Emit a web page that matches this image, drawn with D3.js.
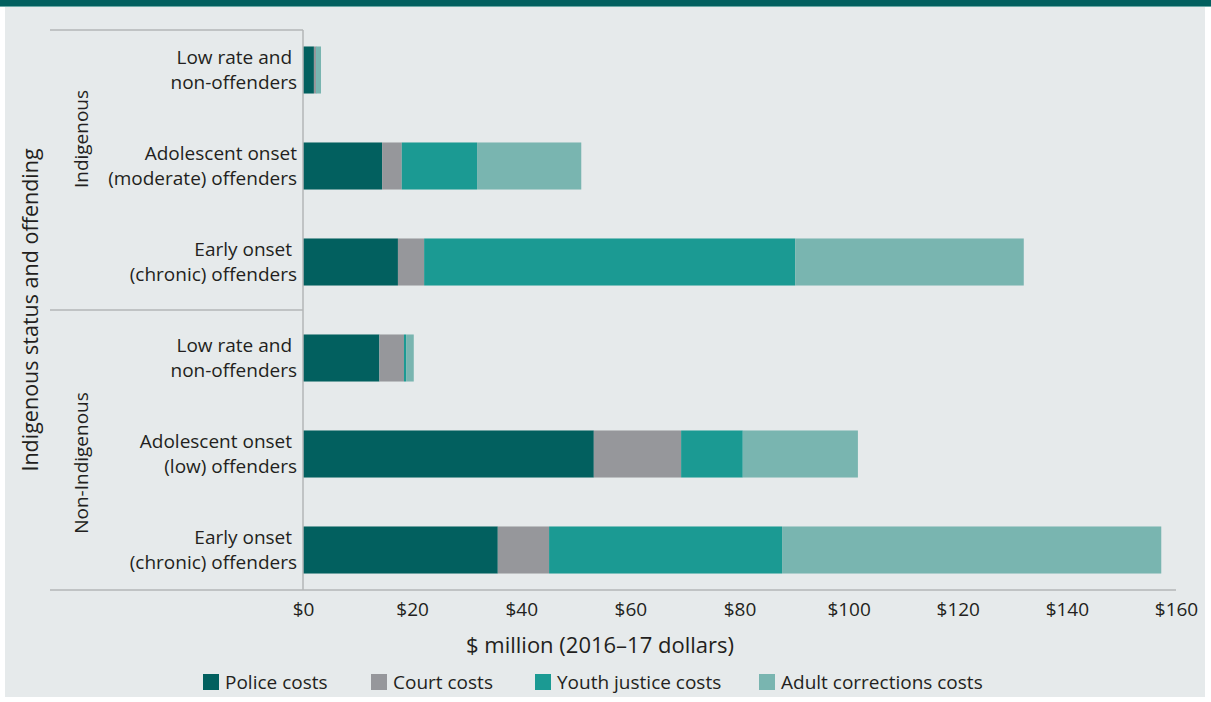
<!DOCTYPE html>
<html>
<head>
<meta charset="utf-8">
<script src="https://cdn.jsdelivr.net/npm/d3@7"></script>
<style>
  body { margin: 0; background: #fff; }
  svg text { font-family: "Open Sans", sans-serif; fill: #231f20; }
</style>
</head>
<body>
<svg id="chart" width="1211" height="702"></svg>
<script>
// Categories (top to bottom) and their group
const groups = ["Indigenous", "Non-Indigenous"];
const categories = [
  ["Low rate and ", "non-offenders"],
  ["Adolescent onset", "(moderate) offenders"],
  ["Early onset ", "(chronic) offenders"],
  ["Low rate and ", "non-offenders"],
  ["Adolescent onset ", "(low) offenders"],
  ["Early onset ", "(chronic) offenders"]
];

// Series values, $ million (2016-17 dollars)
const seriesNames = ["Police costs", "Court costs", "Youth justice costs", "Adult corrections costs"];
const police = [2.0, 14.5, 17.4, 14.0, 53.3, 35.7];
const court = [0.4, 3.6, 4.8, 4.5, 16.0, 9.4];
const youth = [0.1, 13.8, 68.0, 0.4, 11.3, 42.7];
const adult = [0.8, 19.1, 41.9, 1.4, 21.1, 69.5];
const tickValues = [0, 20, 40, 60, 80, 100, 120, 140, 160];
const colors = ["#02605f", "#96979b", "#1b9a93", "#79b5b0"];

const svg = d3.select("#chart");

// Background panel and top banner
svg.append("rect").attr("x", 5).attr("y", 0).attr("width", 1200).attr("height", 697).attr("fill", "#e6eaeb");
svg.append("rect").attr("x", 0).attr("y", 0).attr("width", 1211).attr("height", 6).attr("fill", "#02605f");
svg.append("rect").attr("x", 0).attr("y", 6).attr("width", 1211).attr("height", 1).attr("fill", "#6aa9a6");

const x = d3.scaleLinear().domain([0, 160]).range([303, 1176]);
const y = d3.scaleBand().domain(d3.range(categories.length))
  .range([22, 598]).paddingInner(0.51).paddingOuter(0.255);

// Stack the series
const rows = categories.map((c, i) => ({ i, police: police[i], court: court[i], youth: youth[i], adult: adult[i] }));
const keys = ["police", "court", "youth", "adult"];
const stacked = d3.stack().keys(keys)(rows);

svg.append("g").selectAll("g")
  .data(stacked)
  .join("g")
  .attr("fill", (d, k) => colors[k])
  .selectAll("rect")
  .data(d => d)
  .join("rect")
  .attr("x", d => x(d[0]))
  .attr("y", d => y(d.data.i))
  .attr("width", d => x(d[1]) - x(d[0]))
  .attr("height", y.bandwidth());

// Frame lines
const lineColor = "#b3b6b7";
svg.append("line").attr("x1", 50).attr("x2", 303).attr("y1", 30).attr("y2", 30)
  .attr("stroke", lineColor).attr("stroke-width", 1.5);
svg.append("line").attr("x1", 50).attr("x2", 303).attr("y1", 310).attr("y2", 310)
  .attr("stroke", lineColor).attr("stroke-width", 1.5);
svg.append("line").attr("x1", 303).attr("x2", 303).attr("y1", 30).attr("y2", 590)
  .attr("stroke", lineColor).attr("stroke-width", 1.5);

// X axis
const xAxis = svg.append("g")
  .attr("transform", "translate(0,590)")
  .call(d3.axisBottom(x).tickValues(tickValues).tickFormat(d => "$" + d).tickSize(0).tickPadding(13));
xAxis.select(".domain").remove();
xAxis.selectAll("text").style("font-size", "19px").style("font-family", "Open Sans, sans-serif").attr("fill", "#231f20");
svg.append("line").attr("x1", 50).attr("x2", 1176).attr("y1", 590).attr("y2", 590)
  .attr("stroke", lineColor).attr("stroke-width", 1.5);

svg.append("text")
  .attr("x", 600).attr("y", 653)
  .attr("text-anchor", "middle")
  .style("font-size", "22px")
  .text("$ million (2016\u201317 dollars)");

// Category labels
const catLabel = svg.append("g").selectAll("text")
  .data(categories)
  .join("text")
  .attr("text-anchor", "end")
  .style("font-size", "19px")
  .attr("transform", (d, i) => `translate(297,${y(i) + y.bandwidth() / 2})`);
catLabel.append("tspan").attr("x", 0).attr("y", -6).attr("xml:space", "preserve").text(d => d[0]);
catLabel.append("tspan").attr("x", 0).attr("y", 19).text(d => d[1]);

// Group labels
const groupCenters = [139, 463];
svg.append("g").selectAll("text")
  .data(groups)
  .join("text")
  .attr("text-anchor", "middle")
  .style("font-size", "19px")
  .attr("transform", (d, i) => `translate(88,${groupCenters[i]}) rotate(-90)`)
  .text(d => d);

svg.append("text")
  .attr("text-anchor", "middle")
  .style("font-size", "21.5px")
  .attr("transform", "translate(38,310) rotate(-90)")
  .text("Indigenous status and offending");

// Legend
const legendX = [203, 371, 535, 759];
const legend = svg.append("g").selectAll("g")
  .data(seriesNames)
  .join("g")
  .attr("transform", (d, i) => `translate(${legendX[i]},674)`);
legend.append("rect").attr("width", 16).attr("height", 16).attr("fill", (d, i) => colors[i]);
legend.append("text").attr("x", 22).attr("y", 15).style("font-size", "19px").text(d => d);
</script>
</body>
</html>
